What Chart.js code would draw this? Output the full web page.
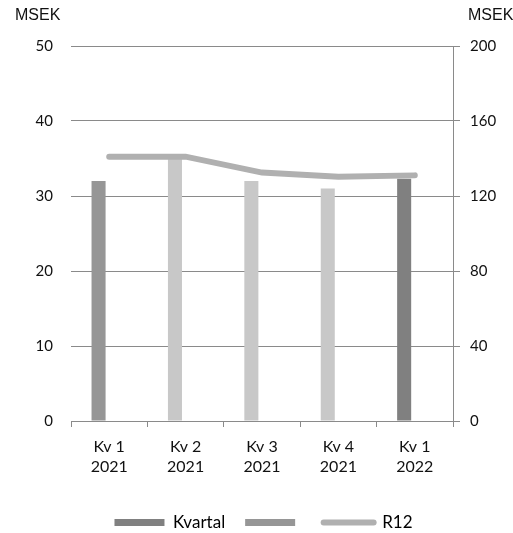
<!DOCTYPE html>
<html>
<head>
<meta charset="utf-8">
<script src="https://cdn.jsdelivr.net/npm/chart.js@4.4.0/dist/chart.umd.min.js"></script>
<style>
  body { margin: 0; background: #fff; }
  #wrap { position: relative; width: 513px; height: 533px; overflow: hidden; }
  .unit { position: absolute; top: 6px; font: 16px "Liberation Sans", Arial, sans-serif; color: #111; }
</style>
</head>
<body>
<div id="wrap">
  <canvas id="chart" width="513" height="533"></canvas>
  <div class="unit" style="left:15px">MSEK</div>
  <div class="unit" style="left:468px">MSEK</div>
</div>
<script>
// ======== Data ========
const categories = [['Kv 1', '2021'], ['Kv 2', '2021'], ['Kv 3', '2021'], ['Kv 4', '2021'], ['Kv 1', '2022']];
const kvartal = [32, 35.5, 32, 31, 32.3];
const r12 = [141, 141, 132.5, 130.3, 131];
const barColors = ['#969696', '#c8c8c8', '#c8c8c8', '#c8c8c8', '#808080'];
const leftTicks = [0, 10, 20, 30, 40, 50];
const rightTicks = [0, 40, 80, 120, 160, 200];

const gridColor = '#8a8a8a';
const tickFont = { family: 'Lato', size: 15 };

// nudges the legend (chart.js has no legend offset option)
const legendShift = {
  id: 'legendShift',
  afterLayout(chart) {
    const lg = chart.legend;
    lg.top += 8;
    lg.bottom += 8;
    lg.left += 7;
    lg.right += 7;
  },
};

const ctx = document.getElementById('chart').getContext('2d');
const chart = new Chart(ctx, {
  data: {
    labels: categories,
    datasets: [
      {
        type: 'line',
        label: 'R12',
        data: r12,
        yAxisID: 'y1',
        borderColor: '#b0b0b0',
        borderWidth: 6,
        borderCapStyle: 'round',
        pointRadius: 0,
        tension: 0,
        order: 0,
      },
      {
        type: 'bar',
        label: 'Kvartal',
        data: kvartal,
        yAxisID: 'y',
        backgroundColor: barColors,
        categoryPercentage: 0.557,
        barPercentage: 0.66,
        order: 1,
      },
      {
        type: 'bar',
        label: '',
        data: kvartal.map(() => null),
        yAxisID: 'y',
        backgroundColor: '#969696',
        categoryPercentage: 0.557,
        barPercentage: 0.66,
        order: 1,
      },
    ],
  },
  plugins: [legendShift],
  options: {
    responsive: false,
    animation: false,
    devicePixelRatio: 1,
    layout: { padding: { top: 46, left: 0, right: 0, bottom: 0 } },
    plugins: {
      tooltip: { enabled: false },
      legend: {
        position: 'bottom',
        labels: {
          usePointStyle: true,
          pointStyleWidth: 50,
          boxHeight: 7,
          padding: 20,
          color: '#111',
          font: { family: 'Lato', size: 17 },
          generateLabels: () => [
            { text: 'Kvartal', fillStyle: '#808080', strokeStyle: '#808080', lineWidth: 0, pointStyle: 'rect', datasetIndex: 1 },
            { text: '', fillStyle: '#969696', strokeStyle: '#969696', lineWidth: 0, pointStyle: 'rect', datasetIndex: 2 },
            { text: 'R12', fillStyle: '#b0b0b0', strokeStyle: '#b0b0b0', lineWidth: 6, lineCap: 'round', pointStyle: 'line', datasetIndex: 0 },
          ],
        },
      },
    },
    scales: {
      x: {
        grid: { offset: true, drawOnChartArea: false, tickLength: 6, color: gridColor },
        border: { display: true, color: gridColor },
        ticks: { color: '#111', font: { family: 'Lato', size: 16, lineHeight: 1.25 }, padding: 10, maxRotation: 0 },
        afterFit: (s) => { s.height = 65; },
      },
      y: {
        position: 'left',
        min: 0, max: 50,
        afterBuildTicks: (s) => { s.ticks = leftTicks.map(v => ({ value: v })); },
        grid: { drawTicks: false, color: gridColor },
        border: { display: false },
        ticks: { color: '#111', font: tickFont, padding: 18 },
        afterFit: (s) => { s.width = 71; },
      },
      y1: {
        position: 'right',
        min: 0, max: 200,
        afterBuildTicks: (s) => { s.ticks = rightTicks.map(v => ({ value: v })); },
        grid: { drawOnChartArea: false, tickLength: 7, color: gridColor },
        border: { display: true, color: gridColor },
        ticks: { color: '#111', font: tickFont, padding: 10 },
        afterFit: (s) => { s.width = 60; },
      },
    },
  },
});
</script>
</body>
</html>
